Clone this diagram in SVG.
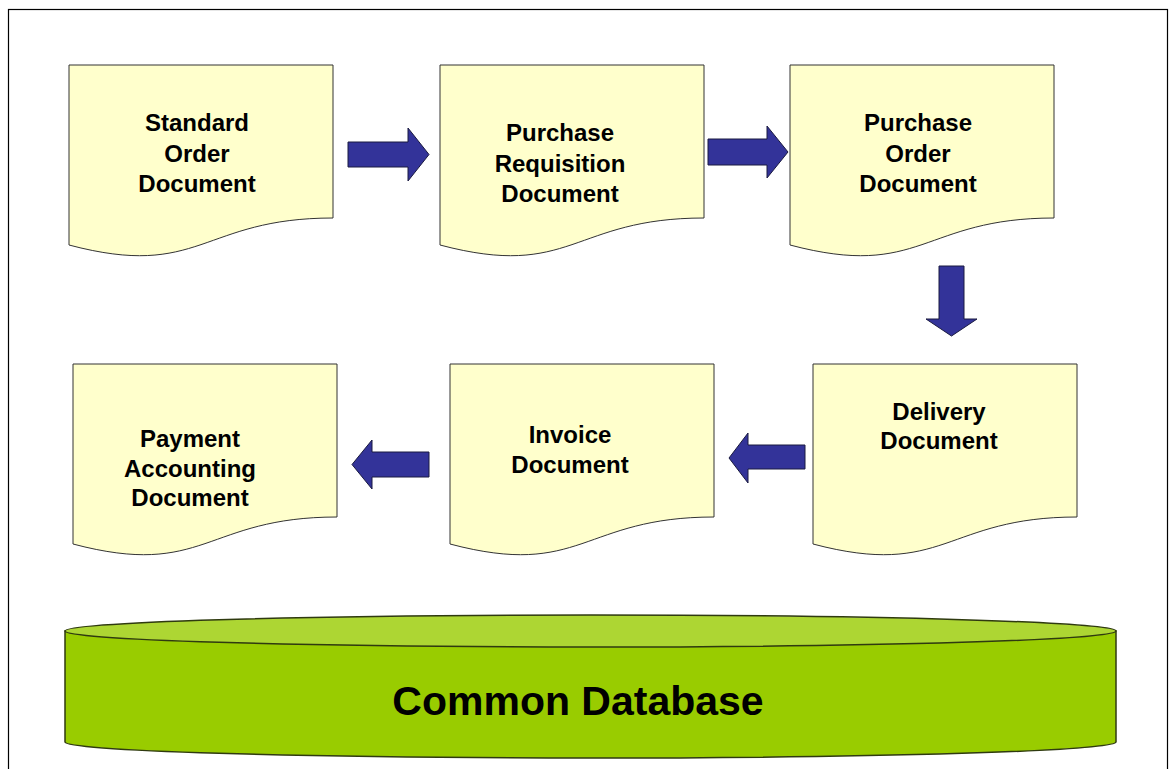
<svg xmlns="http://www.w3.org/2000/svg" width="1171" height="769" viewBox="0 0 1171 769">
  <style>
    .doc { fill: #FFFFCC; stroke: #333333; stroke-width: 1; }
    .lbl { font-family: "Liberation Sans", Arial, sans-serif; font-weight: bold; font-size: 24px; fill: #000; text-anchor: middle; }
    .arrow { fill: #333399; stroke: #1a1a40; stroke-width: 1; }
    .db-side { fill: #99CC00; stroke: #2f3a10; stroke-width: 1.5; }
    .db-top { fill: #ADD633; stroke: #2f3a10; stroke-width: 1.5; }
    .db-lbl { font-family: "Liberation Sans", Arial, sans-serif; font-weight: bold; font-size: 41px; fill: #000; text-anchor: middle; }
  </style>

  <rect width="1171" height="769" fill="#ffffff"/>
  <!-- page frame -->
  <rect x="8.5" y="9.5" width="1159" height="780" fill="none" stroke="#000" stroke-width="1.2"/>

  <!-- document nodes -->
  <g id="standard-order">
    <path class="doc" d="M69,65 H333 V218 C201,218 201,280 69,245 Z"/>
    <text class="lbl" x="197" y="131">Standard</text>
    <text class="lbl" x="197" y="161.5">Order</text>
    <text class="lbl" x="197" y="192">Document</text>
  </g>
  <g id="purchase-requisition">
    <path class="doc" d="M440,65 H704 V218 C572,218 572,280 440,245 Z"/>
    <text class="lbl" x="560" y="141">Purchase</text>
    <text class="lbl" x="560" y="171.5">Requisition</text>
    <text class="lbl" x="560" y="202">Document</text>
  </g>
  <g id="purchase-order">
    <path class="doc" d="M790,65 H1054 V218 C922,218 922,280 790,245 Z"/>
    <text class="lbl" x="918" y="131">Purchase</text>
    <text class="lbl" x="918" y="161.5">Order</text>
    <text class="lbl" x="918" y="192">Document</text>
  </g>
  <g id="delivery">
    <path class="doc" d="M813,364 H1077 V517 C945,517 945,579 813,544 Z"/>
    <text class="lbl" x="939" y="420">Delivery</text>
    <text class="lbl" x="939" y="449">Document</text>
  </g>
  <g id="invoice">
    <path class="doc" d="M450,364 H714 V517 C582,517 582,579 450,544 Z"/>
    <text class="lbl" x="570" y="443">Invoice</text>
    <text class="lbl" x="570" y="472.5">Document</text>
  </g>
  <g id="payment-accounting">
    <path class="doc" d="M73,364 H337 V517 C205,517 205,579 73,544 Z"/>
    <text class="lbl" x="190" y="447">Payment</text>
    <text class="lbl" x="190" y="477">Accounting</text>
    <text class="lbl" x="190" y="506">Document</text>
  </g>

  <!-- block arrows between documents -->
  <g id="connectors">
    <polygon class="arrow" points="348,142 408,142 408,128 429,154.5 408,181 408,167 348,167"/>
    <polygon class="arrow" points="708,139 767,139 767,126 788,152 767,178 767,165 708,165"/>
    <polygon class="arrow" points="939,266 964,266 964,319 977,319 951.5,336 926,319 939,319"/>
    <polygon class="arrow" points="805,445 748,445 748,433 729,458 748,483 748,469 805,469"/>
    <polygon class="arrow" points="429,452 372,452 372,440 352,464.5 372,489 372,477 429,477"/>
  </g>

  <!-- shared database cylinder -->
  <g id="common-database">
    <path class="db-side" d="M65,631 V742 A525.5,16 0 0 0 1116,742 V631 Z"/>
    <ellipse class="db-top" cx="590.5" cy="631" rx="525.5" ry="16"/>
    <text class="db-lbl" x="578" y="715">Common Database</text>
  </g>
</svg>
